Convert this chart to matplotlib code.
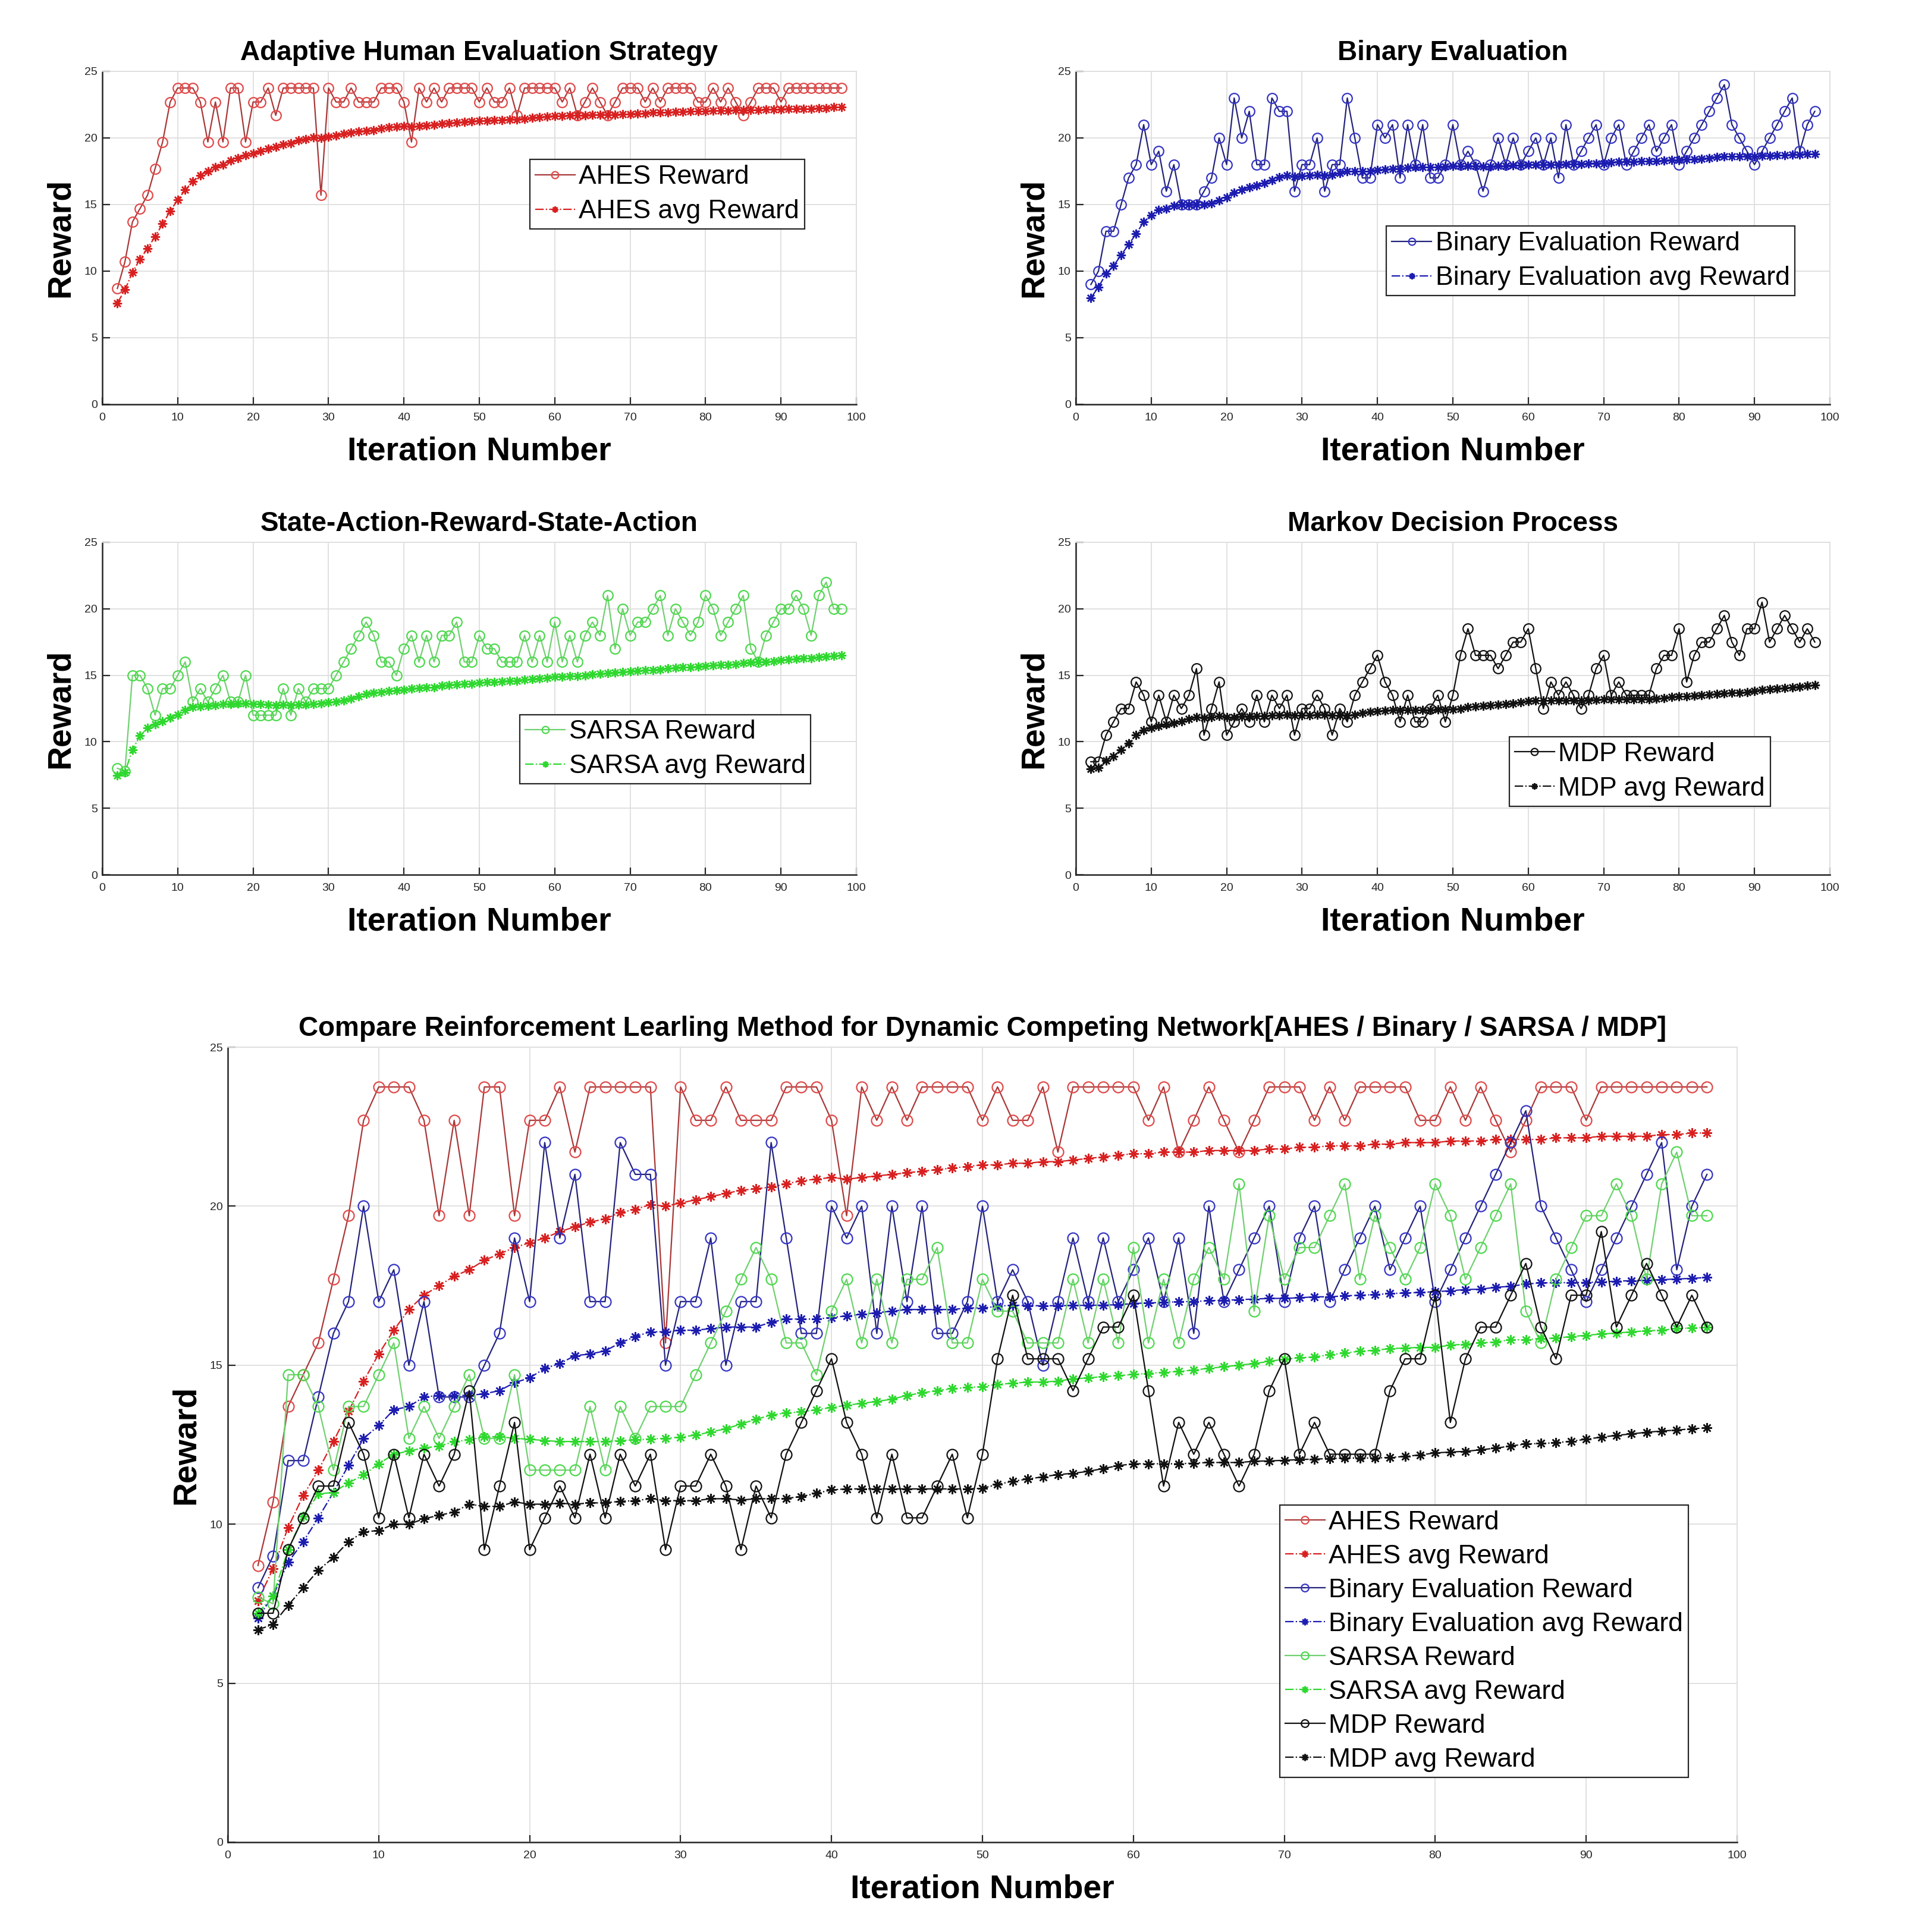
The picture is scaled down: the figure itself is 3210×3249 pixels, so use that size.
import matplotlib
matplotlib.use('Agg')
import matplotlib.pyplot as plt
import numpy as np

plt.rcParams['font.family'] = ['Liberation Sans', 'DejaVu Sans']

# ---------------- data ----------------
iters = np.arange(2, 99)

# AHES (same run in the single plot and the comparison plot)
ahes_reward = [8.7, 10.7, 13.7, 14.7, 15.7, 17.7, 19.7, 22.7, 23.75, 23.75,
               23.75, 22.7, 19.7, 22.7, 19.7, 23.75, 23.75, 19.7, 22.7, 22.7,
               23.75, 21.7, 23.75, 23.75, 23.75, 23.75, 23.75, 15.7, 23.75, 22.7,
               22.7, 23.75, 22.7, 22.7, 22.7, 23.75, 23.75, 23.75, 22.7, 19.7,
               23.75, 22.7, 23.75, 22.7, 23.75, 23.75, 23.75, 23.75, 22.7, 23.75,
               22.7, 22.7, 23.75, 21.7, 23.75, 23.75, 23.75, 23.75, 23.75, 22.7,
               23.75, 21.7, 22.7, 23.75, 22.7, 21.7, 22.7, 23.75, 23.75, 23.75,
               22.7, 23.75, 22.7, 23.75, 23.75, 23.75, 23.75, 22.7, 22.7, 23.75,
               22.7, 23.75, 22.7, 21.7, 22.7, 23.75, 23.75, 23.75, 22.7, 23.75,
               23.75, 23.75, 23.75, 23.75, 23.75, 23.75, 23.75]
ahes_avg = [7.6, 8.6, 9.9, 10.9, 11.7, 12.6, 13.55, 14.5, 15.35, 16.1,
            16.75, 17.2, 17.5, 17.8, 18.0, 18.3, 18.5, 18.7, 18.85, 19.0,
            19.2, 19.35, 19.5, 19.6, 19.8, 19.9, 20.05, 20.0, 20.1, 20.2,
            20.3, 20.4, 20.5, 20.55, 20.6, 20.7, 20.8, 20.85, 20.9, 20.85,
            20.9, 20.95, 21.0, 21.05, 21.1, 21.15, 21.2, 21.25, 21.3, 21.3,
            21.35, 21.35, 21.4, 21.4, 21.45, 21.5, 21.55, 21.6, 21.65, 21.65,
            21.7, 21.7, 21.7, 21.75, 21.75, 21.75, 21.75, 21.8, 21.8, 21.85,
            21.85, 21.9, 21.9, 21.9, 21.95, 21.95, 22.0, 22.0, 22.0, 22.05,
            22.05, 22.05, 22.1, 22.1, 22.1, 22.1, 22.15, 22.15, 22.15, 22.2,
            22.2, 22.2, 22.2, 22.25, 22.25, 22.3, 22.3]

# Binary Evaluation (single plot)
bin_reward = [9, 10, 13, 13, 15, 17, 18, 21, 18, 19,
              16, 18, 15, 15, 15, 16, 17, 20, 18, 23,
              20, 22, 18, 18, 23, 22, 22, 16, 18, 18,
              20, 16, 18, 18, 23, 20, 17, 17, 21, 20,
              21, 17, 21, 18, 21, 17, 17, 18, 21, 18,
              19, 18, 16, 18, 20, 18, 20, 18, 19, 20,
              18, 20, 17, 21, 18, 19, 20, 21, 18, 20,
              21, 18, 19, 20, 21, 19, 20, 21, 18, 19,
              20, 21, 22, 23, 24, 21, 20, 19, 18, 19,
              20, 21, 22, 23, 19, 21, 22]
bin_avg = [8.0, 8.8, 9.8, 10.4, 11.2, 12.0, 12.8, 13.7, 14.2, 14.6,
           14.7, 14.9, 15.0, 15.0, 15.0, 15.0, 15.1, 15.3, 15.55, 15.9,
           16.1, 16.3, 16.45, 16.6, 16.85, 17.05, 17.2, 17.1, 17.15, 17.2,
           17.25, 17.2, 17.25, 17.35, 17.5, 17.5, 17.5, 17.5, 17.6, 17.65,
           17.7, 17.7, 17.75, 17.8, 17.8, 17.8, 17.8, 17.85, 17.9, 17.9,
           17.9, 17.9, 17.85, 17.85, 17.9, 17.9, 17.95, 17.95, 18.0, 18.0,
           18.0, 18.0, 18.0, 18.05, 18.05, 18.05, 18.1, 18.1, 18.1, 18.15,
           18.2, 18.2, 18.2, 18.25, 18.25, 18.25, 18.3, 18.35, 18.35, 18.4,
           18.4, 18.45, 18.5, 18.55, 18.6, 18.6, 18.6, 18.6, 18.6, 18.65,
           18.65, 18.7, 18.7, 18.75, 18.75, 18.8, 18.8]

# SARSA (single plot)
sarsa_reward = [8.0, 7.8, 15, 15, 14, 12, 14, 14, 15, 16,
                13, 14, 13, 14, 15, 13, 13, 15, 12, 12,
                12, 12, 14, 12, 14, 13, 14, 14, 14, 15,
                16, 17, 18, 19, 18, 16, 16, 15, 17, 18,
                16, 18, 16, 18, 18, 19, 16, 16, 18, 17,
                17, 16, 16, 16, 18, 16, 18, 16, 19, 16,
                18, 16, 18, 19, 18, 21, 17, 20, 18, 19,
                19, 20, 21, 18, 20, 19, 18, 19, 21, 20,
                18, 19, 20, 21, 17, 16, 18, 19, 20, 20,
                21, 20, 18, 21, 22, 20, 20]
sarsa_avg = [7.45, 7.7, 9.4, 10.45, 11.05, 11.3, 11.55, 11.8, 12.05, 12.4,
             12.6, 12.65, 12.7, 12.75, 12.85, 12.85, 12.9, 12.9, 12.85, 12.85,
             12.8, 12.75, 12.8, 12.75, 12.8, 12.8, 12.85, 12.9, 12.95, 13.0,
             13.1, 13.25, 13.4, 13.6, 13.7, 13.75, 13.8, 13.85, 13.9, 14.0,
             14.05, 14.1, 14.1, 14.2, 14.25, 14.3, 14.35, 14.35, 14.45, 14.5,
             14.5, 14.55, 14.6, 14.6, 14.65, 14.7, 14.75, 14.8, 14.9, 14.9,
             14.95, 14.95, 15.0, 15.05, 15.1, 15.15, 15.2, 15.25, 15.3, 15.35,
             15.4, 15.4, 15.45, 15.5, 15.55, 15.6, 15.6, 15.65, 15.7, 15.75,
             15.8, 15.8, 15.85, 15.9, 15.95, 16.0, 16.0, 16.05, 16.15, 16.2,
             16.25, 16.3, 16.3, 16.35, 16.4, 16.45, 16.5]

# MDP (single plot)
mdp_reward = [8.5, 8.5, 10.5, 11.5, 12.5, 12.5, 14.5, 13.5, 11.5, 13.5,
              11.5, 13.5, 12.5, 13.5, 15.5, 10.5, 12.5, 14.5, 10.5, 11.5,
              12.5, 11.5, 13.5, 11.5, 13.5, 12.5, 13.5, 10.5, 12.5, 12.5,
              13.5, 12.5, 10.5, 12.5, 11.5, 13.5, 14.5, 15.5, 16.5, 14.5,
              13.5, 11.5, 13.5, 11.5, 11.5, 12.5, 13.5, 11.5, 13.5, 16.5,
              18.5, 16.5, 16.5, 16.5, 15.5, 16.5, 17.5, 17.5, 18.5, 15.5,
              12.5, 14.5, 13.5, 14.5, 13.5, 12.5, 13.5, 15.5, 16.5, 13.5,
              14.5, 13.5, 13.5, 13.5, 13.5, 15.5, 16.5, 16.5, 18.5, 14.5,
              16.5, 17.5, 17.5, 18.5, 19.5, 17.5, 16.5, 18.5, 18.5, 20.5,
              17.5, 18.5, 19.5, 18.5, 17.5, 18.5, 17.5]
mdp_avg = [7.95, 8.05, 8.6, 8.9, 9.4, 9.9, 10.5, 10.85, 11.05, 11.2,
           11.3, 11.4, 11.55, 11.7, 11.85, 11.8, 11.85, 11.95, 11.85, 11.85,
           11.9, 11.9, 11.95, 11.95, 12.0, 12.0, 12.05, 12.0, 12.0, 12.0,
           12.05, 12.05, 12.0, 12.0, 12.0, 12.05, 12.15, 12.25, 12.3, 12.35,
           12.4, 12.4, 12.4, 12.4, 12.4, 12.4, 12.45, 12.45, 12.45, 12.5,
           12.6, 12.65, 12.7, 12.75, 12.8, 12.85, 12.9, 12.95, 13.05, 13.1,
           13.1, 13.1, 13.1, 13.1, 13.1, 13.1, 13.1, 13.15, 13.2, 13.2,
           13.2, 13.2, 13.2, 13.2, 13.2, 13.25, 13.3, 13.35, 13.4, 13.4,
           13.45, 13.5, 13.55, 13.6, 13.65, 13.7, 13.7, 13.75, 13.8, 13.9,
           13.95, 14.0, 14.05, 14.1, 14.15, 14.2, 14.25]

# comparison plot runs (Binary / SARSA / MDP differ from the single plots)
cmp_bin_reward = [8, 9, 12, 12, 14, 16, 17, 20, 17, 18,
                  15, 17, 14, 14, 14, 15, 16, 19, 17, 22,
                  19, 21, 17, 17, 22, 21, 21, 15, 17, 17,
                  19, 15, 17, 17, 22, 19, 16, 16, 20, 19,
                  20, 16, 20, 17, 20, 16, 16, 17, 20, 17,
                  18, 17, 15, 17, 19, 17, 19, 17, 18, 19,
                  17, 19, 16, 20, 17, 18, 19, 20, 17, 19,
                  20, 17, 18, 19, 20, 18, 19, 20, 17, 18,
                  19, 20, 21, 22, 23, 20, 19, 18, 17, 18,
                  19, 20, 21, 22, 18, 20, 21]
cmp_bin_avg = [7.05, 7.75, 8.8, 9.45, 10.2, 11.0, 11.85, 12.7, 13.1, 13.6,
               13.7, 14.0, 14.05, 14.05, 14.05, 14.1, 14.2, 14.45, 14.6, 14.9,
               15.05, 15.3, 15.35, 15.45, 15.7, 15.9, 16.05, 16.05, 16.1, 16.1,
               16.15, 16.2, 16.2, 16.2, 16.35, 16.45, 16.45, 16.45, 16.5, 16.55,
               16.6, 16.65, 16.7, 16.75, 16.75, 16.75, 16.75, 16.8, 16.8, 16.85,
               16.89, 16.87, 16.87, 16.87, 16.88, 16.88, 16.89, 16.9, 16.94, 16.96,
               16.97, 17.0, 17.0, 17.03, 17.04, 17.06, 17.08, 17.1, 17.1, 17.12,
               17.15, 17.15, 17.18, 17.2, 17.22, 17.25, 17.27, 17.29, 17.31, 17.34,
               17.38, 17.39, 17.45, 17.48, 17.55, 17.59, 17.59, 17.6, 17.6, 17.62,
               17.64, 17.66, 17.67, 17.69, 17.71, 17.73, 17.76]
cmp_sarsa_reward = [7.7, 7.5, 14.7, 14.7, 13.7, 11.7, 13.7, 13.7, 14.7, 15.7,
                    12.7, 13.7, 12.7, 13.7, 14.7, 12.7, 12.7, 14.7, 11.7, 11.7,
                    11.7, 11.7, 13.7, 11.7, 13.7, 12.7, 13.7, 13.7, 13.7, 14.7,
                    15.7, 16.7, 17.7, 18.7, 17.7, 15.7, 15.7, 14.7, 16.7, 17.7,
                    15.7, 17.7, 15.7, 17.7, 17.7, 18.7, 15.7, 15.7, 17.7, 16.7,
                    16.7, 15.7, 15.7, 15.7, 17.7, 15.7, 17.7, 15.7, 18.7, 15.7,
                    17.7, 15.7, 17.7, 18.7, 17.7, 20.7, 16.7, 19.7, 17.7, 18.7,
                    18.7, 19.7, 20.7, 17.7, 19.7, 18.7, 17.7, 18.7, 20.7, 19.7,
                    17.7, 18.7, 19.7, 20.7, 16.7, 15.7, 17.7, 18.7, 19.7, 19.7,
                    20.7, 19.7, 17.7, 20.7, 21.7, 19.7, 19.7]
cmp_sarsa_avg = [7.2, 7.75, 9.2, 10.25, 10.95, 11.0, 11.3, 11.55, 11.9, 12.2,
                 12.3, 12.4, 12.45, 12.6, 12.65, 12.75, 12.75, 12.7, 12.67, 12.63,
                 12.6, 12.6, 12.6, 12.6, 12.63, 12.65, 12.68, 12.7, 12.74, 12.8,
                 12.9, 13.0, 13.15, 13.3, 13.43, 13.5, 13.53, 13.6, 13.67, 13.74,
                 13.8, 13.86, 13.93, 14.05, 14.13, 14.2, 14.26, 14.3, 14.33, 14.4,
                 14.43, 14.47, 14.47, 14.5, 14.57, 14.6, 14.64, 14.67, 14.71, 14.74,
                 14.78, 14.8, 14.85, 14.9, 14.95, 15.0, 15.05, 15.12, 15.19, 15.23,
                 15.26, 15.33, 15.38, 15.44, 15.47, 15.52, 15.54, 15.56, 15.56, 15.63,
                 15.66, 15.7, 15.73, 15.8, 15.8, 15.84, 15.85, 15.9, 15.94, 15.98,
                 16.01, 16.05, 16.08, 16.1, 16.15, 16.17, 16.19]
cmp_mdp_reward = [7.2, 7.2, 9.2, 10.2, 11.2, 11.2, 13.2, 12.2, 10.2, 12.2,
                  10.2, 12.2, 11.2, 12.2, 14.2, 9.2, 11.2, 13.2, 9.2, 10.2,
                  11.2, 10.2, 12.2, 10.2, 12.2, 11.2, 12.2, 9.2, 11.2, 11.2,
                  12.2, 11.2, 9.2, 11.2, 10.2, 12.2, 13.2, 14.2, 15.2, 13.2,
                  12.2, 10.2, 12.2, 10.2, 10.2, 11.2, 12.2, 10.2, 12.2, 15.2,
                  17.2, 15.2, 15.2, 15.2, 14.2, 15.2, 16.2, 16.2, 17.2, 14.2,
                  11.2, 13.2, 12.2, 13.2, 12.2, 11.2, 12.2, 14.2, 15.2, 12.2,
                  13.2, 12.2, 12.2, 12.2, 12.2, 14.2, 15.2, 15.2, 17.2, 13.2,
                  15.2, 16.2, 16.2, 17.2, 18.2, 16.2, 15.2, 17.2, 17.2, 19.2,
                  16.2, 17.2, 18.2, 17.2, 16.2, 17.2, 16.2]
cmp_mdp_avg = [6.68, 6.85, 7.45, 8.0, 8.55, 8.95, 9.45, 9.76, 9.8, 10.0,
               10.0, 10.17, 10.28, 10.38, 10.63, 10.56, 10.56, 10.7, 10.63, 10.63,
               10.66, 10.63, 10.67, 10.67, 10.72, 10.74, 10.8, 10.74, 10.74, 10.74,
               10.8, 10.8, 10.76, 10.8, 10.8, 10.81, 10.87, 10.97, 11.08, 11.11,
               11.11, 11.11, 11.11, 11.11, 11.11, 11.11, 11.11, 11.11, 11.13, 11.25,
               11.35, 11.42, 11.49, 11.56, 11.6, 11.66, 11.75, 11.84, 11.9, 11.9,
               11.9, 11.9, 11.92, 11.94, 11.94, 11.94, 11.98, 11.99, 12.01, 12.03,
               12.05, 12.06, 12.08, 12.08, 12.08, 12.1, 12.13, 12.18, 12.24, 12.27,
               12.29, 12.34, 12.39, 12.46, 12.52, 12.54, 12.56, 12.61, 12.67, 12.74,
               12.79, 12.84, 12.89, 12.93, 12.96, 13.0, 13.03]

# line / marker colours per method: (reward line, reward marker, avg colour)
COLORS = {
    'AHES': ('#a83838', '#e04848', '#d82020'),
    'Binary Evaluation': ('#23237a', '#3434c4', '#1c1cb0'),
    'SARSA': ('#70d070', '#4cd84c', '#2ed82e'),
    'MDP': ('#111111', '#111111', '#111111'),
}
ASTERISK = (8, 2, 0)


def draw_pair(ax, name, reward, avg, ms):
    line_c, mark_c, avg_c = COLORS[name]
    ax.plot(iters, reward, '-', color=line_c, lw=1.6, marker='o', ms=ms,
            mfc='none', mec=mark_c, mew=1.6, label=f'{name} Reward')
    ax.plot(iters, avg, '-.', color=avg_c, lw=1.6, marker=ASTERISK, ms=ms - 1,
            mec=avg_c, mew=1.8, label=f'{name} avg Reward')


def style_axes(ax, title):
    ax.set_xlim(0, 100)
    ax.set_ylim(0, 25)
    ax.set_xticks(range(0, 101, 10))
    ax.set_yticks(range(0, 26, 5))
    ax.grid(True, color='#dedede', linewidth=1.3)
    ax.set_axisbelow(True)
    for s in ['top', 'right']:
        ax.spines[s].set_color('#dedede')
        ax.spines[s].set_linewidth(1.3)
    for s in ['left', 'bottom']:
        ax.spines[s].set_color('#262626')
        ax.spines[s].set_linewidth(1.8)
    ax.tick_params(direction='in', length=9, width=1.6, labelsize=14,
                   colors='#262626', top=False, right=False)
    ax.tick_params(axis='x', pad=10)
    ax.tick_params(axis='y', pad=6)
    ax.set_title(title, fontsize=33, fontweight='bold', pad=14)
    ax.set_xlabel('Iteration Number', fontsize=40, fontweight='bold', labelpad=16)
    ax.set_ylabel('Reward', fontsize=40, fontweight='bold', labelpad=10)


def add_legend(ax, anchor, fs, spacing):
    leg = ax.legend(loc='upper left', bbox_to_anchor=anchor, fontsize=fs,
                    frameon=True, fancybox=False, framealpha=1, edgecolor='#262626',
                    borderpad=0.2, handlelength=1.5, handletextpad=0.15,
                    labelspacing=spacing, borderaxespad=0, numpoints=1, markerscale=0.7)
    leg.get_frame().set_linewidth(1.6)


fig = plt.figure(figsize=(32.1, 32.49), dpi=100)

W, H = 3210, 3249


def axes_px(x0, y0, x1, y1):
    return fig.add_axes([x0 / W, 1 - y1 / H, (x1 - x0) / W, (y1 - y0) / H])


ax1 = axes_px(172, 120, 1440, 680)
draw_pair(ax1, 'AHES', ahes_reward, ahes_avg, 12)
style_axes(ax1, 'Adaptive Human Evaluation Strategy')
add_legend(ax1, (0.567, 0.735), 32, 0.38)

ax2 = axes_px(1809, 120, 3077, 680)
draw_pair(ax2, 'Binary Evaluation', bin_reward, bin_avg, 12)
style_axes(ax2, 'Binary Evaluation')
add_legend(ax2, (0.412, 0.535), 32, 0.38)

ax3 = axes_px(172, 912, 1440, 1471)
draw_pair(ax3, 'SARSA', sarsa_reward, sarsa_avg, 12)
style_axes(ax3, 'State-Action-Reward-State-Action')
add_legend(ax3, (0.554, 0.482), 32, 0.38)

ax4 = axes_px(1809, 912, 3077, 1471)
draw_pair(ax4, 'MDP', mdp_reward, mdp_avg, 12)
style_axes(ax4, 'Markov Decision Process')
add_legend(ax4, (0.575, 0.415), 32, 0.38)

ax5 = axes_px(383, 1761, 2921, 3098)
draw_pair(ax5, 'AHES', ahes_reward, ahes_avg, 13)
draw_pair(ax5, 'Binary Evaluation', cmp_bin_reward, cmp_bin_avg, 13)
draw_pair(ax5, 'SARSA', cmp_sarsa_reward, cmp_sarsa_avg, 13)
draw_pair(ax5, 'MDP', cmp_mdp_reward, cmp_mdp_avg, 13)
style_axes(ax5, 'Compare Reinforcement Learling Method for Dynamic Competing '
                'Network[AHES / Binary / SARSA / MDP]')
add_legend(ax5, (0.697, 0.424), 32, 0.36)

fig.savefig('out.png', dpi=100, facecolor='white')
